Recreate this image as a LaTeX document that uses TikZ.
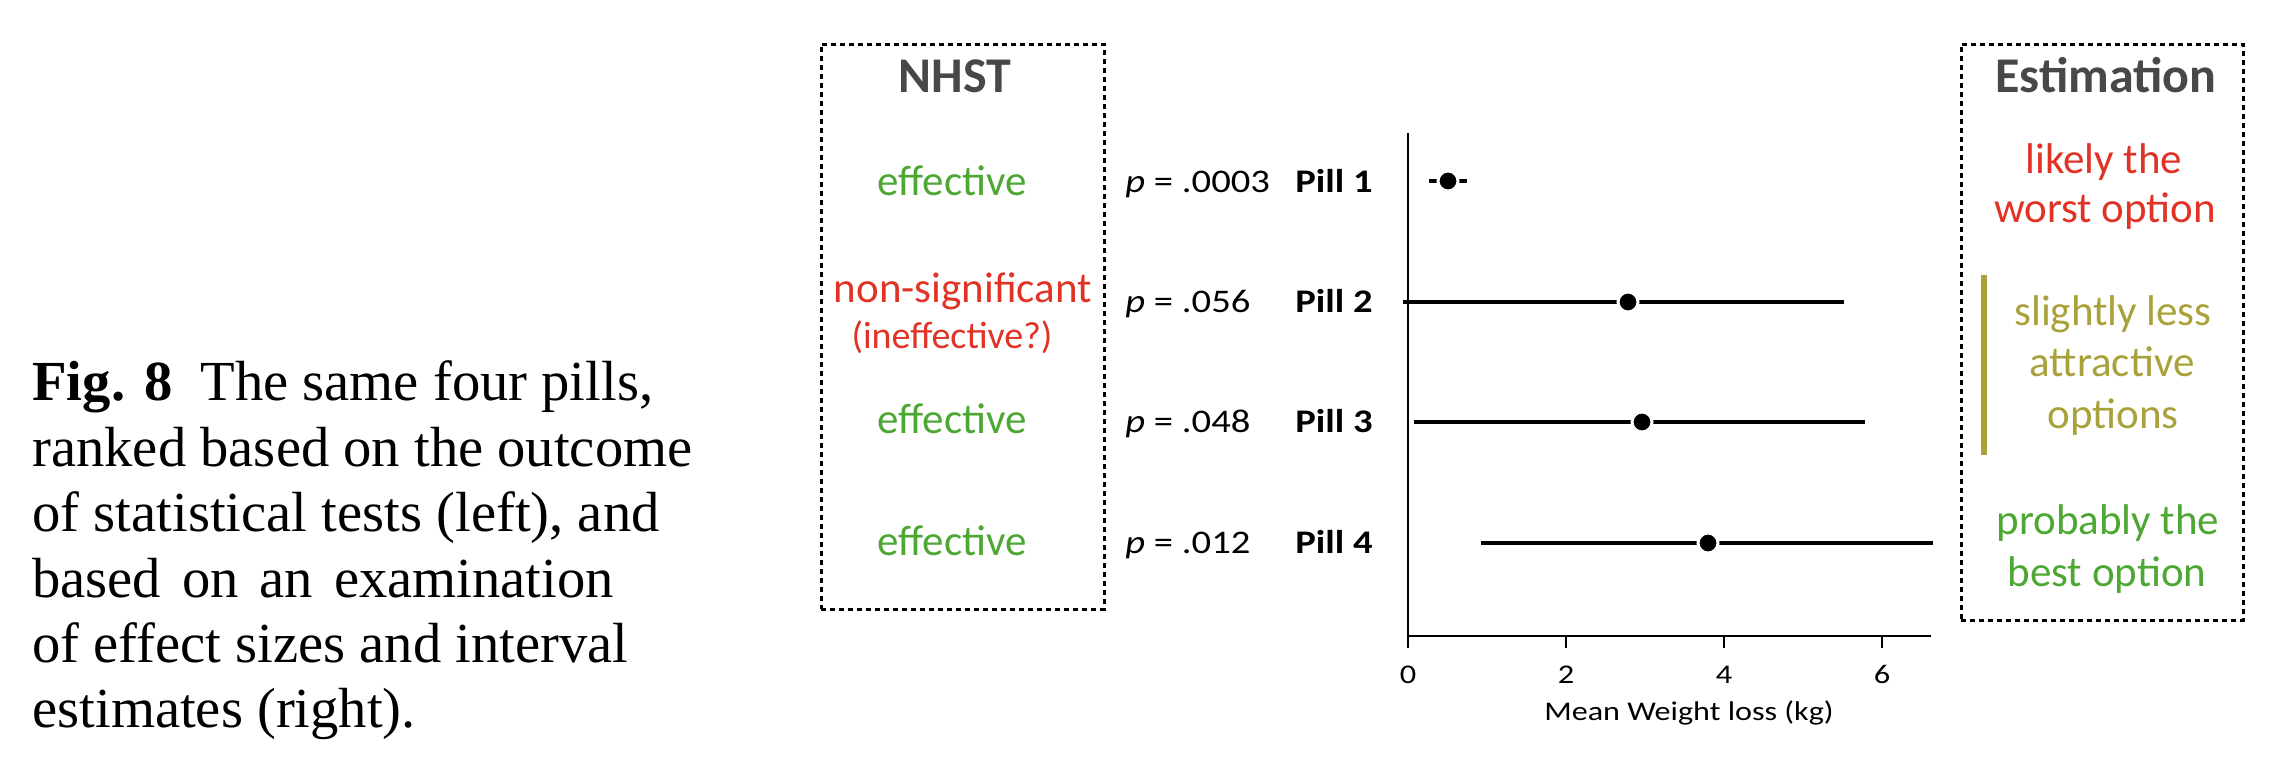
\documentclass[tikz,border=0pt]{standalone}
\usepackage{fontspec}
\usepackage{graphicx}
\setmainfont{Liberation Serif}
\newfontfamily\carlito{Carlito}
\definecolor{okgreen}{HTML}{4CA733}
\definecolor{badred}{HTML}{E03326}
\definecolor{olivebar}{HTML}{A9A23A}
\definecolor{titlegray}{HTML}{484848}
\begin{document}
\begin{tikzpicture}[x=0.5pt,y=-0.5pt,
  captxt/.style={anchor=base west,inner sep=0pt,font=\fontsize{28.3}{32.8}\selectfont},
  dbox/.style={draw=black,line width=1.5pt,dash pattern=on 2.5pt off 2pt,inner sep=0pt},
  ttl/.style={anchor=base,inner sep=0pt,text=titlegray,font=\carlito\bfseries\fontsize{25}{28}\selectfont},
  lbl/.style={anchor=base,inner sep=0pt,font=\carlito\fontsize{21.5}{24}\selectfont},
  smlbl/.style={anchor=base,inner sep=0pt,font=\carlito\fontsize{19}{22}\selectfont},
  plbl/.style={anchor=base west,inner sep=0pt,font=\carlito\fontsize{16.5}{18}\selectfont},
  axlbl/.style={anchor=base,inner sep=0pt,font=\carlito\fontsize{13.5}{15}\selectfont},
  ci/.style={line width=2pt},
  dot/.style={circle,fill=black,draw=white,line width=1.5pt,minimum size=10pt,inner sep=0pt},
  axis/.style={line width=1pt}]
\useasboundingbox (0,0) rectangle (2286,772);

% caption
\node[captxt] (cap1) at (32,400) {\textbf{Fig. 8}\hspace{0.25em} The same four pills,};
\node[captxt] (cap2) at (32,466) {ranked based on the outcome};
\node[captxt] (cap3) at (32,531) {of statistical tests (left), and};
\node[captxt] (cap4) at (32,597) {based\hspace{0.12em} on\hspace{0.12em} an\hspace{0.12em} examination};
\node[captxt] (cap5) at (32,662) {of effect sizes and interval};
\node[captxt] (cap6) at (32,727) {estimates (right).};

% boxes
\node[dbox,minimum width=141.5pt,minimum height=282.5pt] (nhstbox) at (962.5,326.5) {};
\node[dbox,minimum width=141pt,minimum height=288pt] (estbox) at (2102,332) {};

% titles
\node[ttl] (nhst) at (955,92) {NHST};
\node[ttl] (est) at (2106,92) {Estimation};

% NHST labels
\node[lbl,text=okgreen] (n1) at (952,195) {effective};
\node[lbl,text=badred] (n2) at (963,302) {non-significant};
\node[smlbl,text=badred] (n2b) at (952,348) {(ineffective?)};
\node[lbl,text=okgreen] (n3) at (952,433) {effective};
\node[lbl,text=okgreen] (n4) at (952,555) {effective};

% p values and pill names
\node[plbl] (p1) at (1125,192) {\scalebox{1.17}[1]{\itshape p\upshape{} = .0003}};
\node[plbl] (p2) at (1125,312) {\scalebox{1.17}[1]{\itshape p\upshape{} = .056}};
\node[plbl] (p3) at (1125,432) {\scalebox{1.17}[1]{\itshape p\upshape{} = .048}};
\node[plbl] (p4) at (1125,553) {\scalebox{1.17}[1]{\itshape p\upshape{} = .012}};
\node[plbl] (pill1) at (1295,192) {\scalebox{1.17}[1]{\bfseries Pill 1}};
\node[plbl] (pill2) at (1295,312) {\scalebox{1.17}[1]{\bfseries Pill 2}};
\node[plbl] (pill3) at (1295,432) {\scalebox{1.17}[1]{\bfseries Pill 3}};
\node[plbl] (pill4) at (1295,553) {\scalebox{1.17}[1]{\bfseries Pill 4}};

% axes
\coordinate (ytop) at (1408,133);
\coordinate (ybot) at (1408,648);
\coordinate (x0) at (1408,636);
\coordinate (xend) at (1931,636);
\draw[axis] (ytop) -- (ybot);
\draw[axis] (x0) -- (xend);
\coordinate (t2) at (1566,636);
\coordinate (t4) at (1724,636);
\coordinate (t6) at (1882,636);
\coordinate (t2b) at (1566,648);
\coordinate (t4b) at (1724,648);
\coordinate (t6b) at (1882,648);
\draw[axis] (t2) -- (t2b);
\draw[axis] (t4) -- (t4b);
\draw[axis] (t6) -- (t6b);
\node[axlbl] (l0) at (1408,683) {\scalebox{1.2}[1]{0}};
\node[axlbl] (l2) at (1566,683) {\scalebox{1.2}[1]{2}};
\node[axlbl] (l4) at (1724,683) {\scalebox{1.2}[1]{4}};
\node[axlbl] (l6) at (1882,683) {\scalebox{1.2}[1]{6}};
\node[axlbl] (xt) at (1689,720) {\scalebox{1.19}[1]{Mean Weight loss (kg)}};

% intervals
\coordinate (a1) at (1429,181); \coordinate (b1) at (1467,181);
\coordinate (a2) at (1403,302); \coordinate (b2) at (1844,302);
\coordinate (a3) at (1414,422); \coordinate (b3) at (1865,422);
\coordinate (a4) at (1481,543); \coordinate (b4) at (1933,543);
\draw[ci] (a1) -- (b1);
\draw[ci] (a2) -- (b2);
\draw[ci] (a3) -- (b3);
\draw[ci] (a4) -- (b4);
\node[dot] (d1) at (1448,181) {};
\node[dot] (d2) at (1628,302) {};
\node[dot] (d3) at (1642,422) {};
\node[dot] (d4) at (1708,543) {};

% estimation labels
\node[lbl,text=badred] (e1) at (2104,173) {likely the};
\node[lbl,text=badred] (e1b) at (2105,222) {worst option};
\coordinate (bartop) at (1984,275);
\coordinate (barbot) at (1984,455);
\draw[olivebar,line width=3pt] (bartop) -- (barbot);
\node[lbl,text=olivebar] (e2) at (2113,325) {slightly less};
\node[lbl,text=olivebar] (e2b) at (2112,376) {attractive};
\node[lbl,text=olivebar] (e2c) at (2113,428) {options};
\node[lbl,text=okgreen] (e3) at (2108,534) {probably the};
\node[lbl,text=okgreen] (e3b) at (2107,586) {best option};
\end{tikzpicture}
\end{document}
